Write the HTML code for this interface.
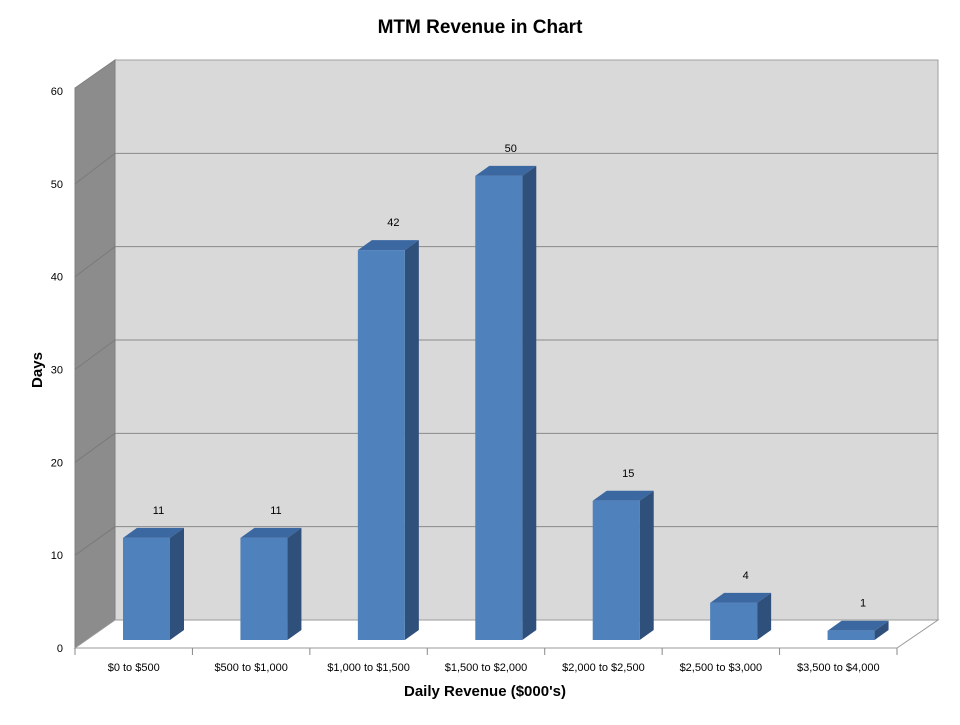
<!DOCTYPE html>
<html><head><meta charset="utf-8"><style>
body{margin:0;background:#fff;}
svg text{font-family:"Liberation Sans",Arial,sans-serif;}
</style></head><body>
<svg id="chart" width="960" height="720" viewBox="0 0 960 720">
<text x="480" y="33" text-anchor="middle" font-size="19" font-weight="bold">MTM Revenue in Chart</text>
<polygon points="115,60 938,60 938,620 115,620" fill="#d9d9d9" stroke="#a0a0a0"/>
<polygon points="75,88 115,60 115,620 75,648" fill="#8c8c8c" stroke="#808080"/>
<polygon points="75,648 115,620 938,620 897,648" fill="#ffffff" stroke="#9a9a9a"/>
<g id="grid"></g><g id="bars"></g><g id="axes"></g>
<text x="42" y="370" text-anchor="middle" font-size="15" font-weight="bold" transform="rotate(-90 42 370)">Days</text>
<text x="485" y="696" text-anchor="middle" font-size="15" font-weight="bold">Daily Revenue ($000's)</text>
</svg>
<script>
const categories=["$0 to $500","$500 to $1,000","$1,000 to $1,500","$1,500 to $2,000","$2,000 to $2,500","$2,500 to $3,000","$3,500 to $4,000"];
const values=[11,11,42,50,15,4,1];
const yTicks=[0,10,20,30,40,50,60];
const NS="http://www.w3.org/2000/svg";
function mk(t,a,p){const e=document.createElementNS(NS,t);for(const k in a)e.setAttribute(k,a[k]);p.appendChild(e);return e;}
const yFront=v=>648-v*9.283;
const yBack=v=>620-v*9.333;
const yBar=v=>640-v*9.283;
const step=822/7;
const xCat=i=>75+step*i;
const grid=document.getElementById('grid'),bars=document.getElementById('bars'),axes=document.getElementById('axes');
yTicks.forEach(v=>{
 if(v>0&&v<60){const l=mk('line',{x1:115,x2:938,y1:yBack(v),y2:yBack(v),stroke:'#8a8a8a','stroke-width':1},grid);
 
 const d=mk('line',{x1:75,x2:115,y1:yFront(v),y2:yBack(v),stroke:'#7a7a7a','stroke-width':1},grid);
 }
 const t=mk('text',{x:63,y:yFront(v)+4,'text-anchor':'end','font-size':11},axes);t.textContent=v;
 
});
categories.forEach((c,i)=>{
 const x0=xCat(i)+48,w=47,dx=14,dy=10,v=values[i],yt=yBar(v),yb=640;
 const g=mk('g',{},bars);
 
 mk('polygon',{points:`${x0+w},${yt} ${x0+w+dx},${yt-dy} ${x0+w+dx},${yb-dy} ${x0+w},${yb}`,fill:'#30507c'},g);
 mk('polygon',{points:`${x0},${yt} ${x0+dx},${yt-dy} ${x0+w+dx},${yt-dy} ${x0+w},${yt}`,fill:'#3b68a0'},g);
 mk('rect',{x:x0,y:yt,width:w,height:yb-yt,fill:'#4f81bd'},g);
 const t=mk('text',{x:x0+w/2+12,y:yt-24,'text-anchor':'middle','font-size':11},bars);t.textContent=v;
 
 const lt=mk('text',{x:xCat(i)+step/2,y:671,'text-anchor':'middle','font-size':11},axes);lt.textContent=c;
 
 const tk=mk('line',{x1:xCat(i),x2:xCat(i),y1:648,y2:655,stroke:'#888'},axes);
 
});
const tk=mk('line',{x1:897,x2:897,y1:648,y2:655,stroke:'#888'},axes);

</script>
</body></html>
